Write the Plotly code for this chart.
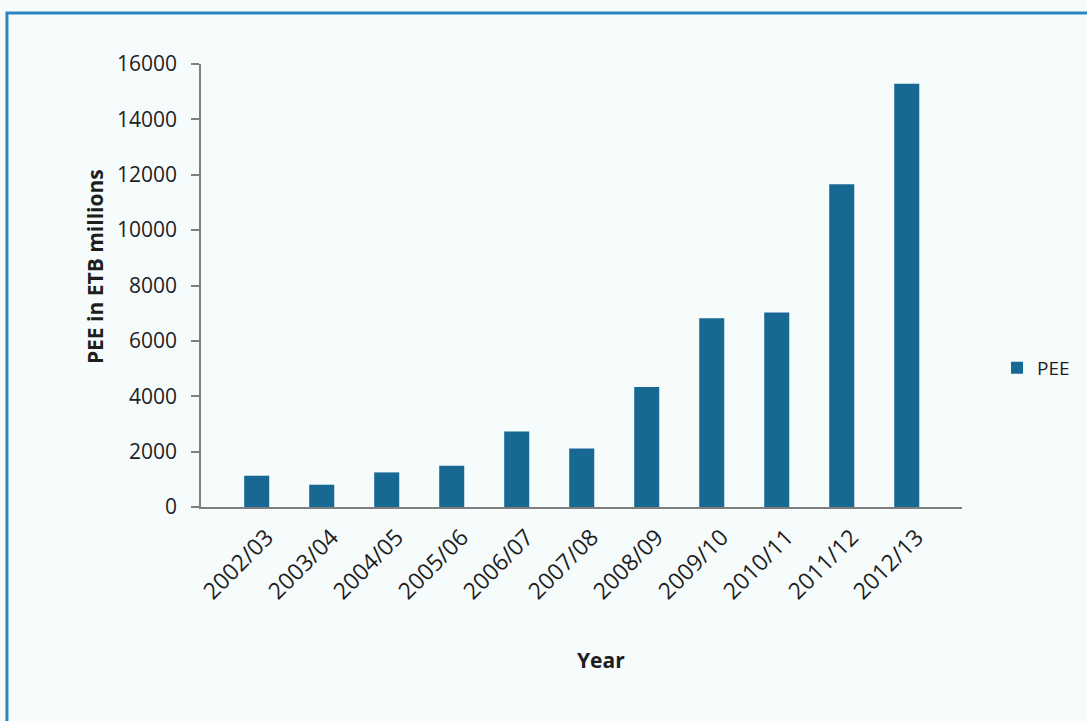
import plotly.graph_objects as go

years = ["2002/03", "2003/04", "2004/05", "2005/06", "2006/07", "2007/08",
         "2008/09", "2009/10", "2010/11", "2011/12", "2012/13"]
pee = [1130, 805, 1250, 1490, 2730, 2115, 4330, 6820, 7025, 11660, 15290]
y_ticks = [0, 2000, 4000, 6000, 8000, 10000, 12000, 14000, 16000]

FONT = "Open Sans"
TEXT = "#1e1e1e"
AXIS = "#7f7f7f"

fig = go.Figure()
fig.add_trace(go.Bar(
    x=list(range(len(years))),
    y=pee,
    name="PEE",
    width=0.385,
    marker=dict(color="#186894", line=dict(width=0)),
))

fig.update_layout(
    width=1087,
    height=721,
    margin=dict(l=201, r=125, t=64, b=214),
    paper_bgcolor="#f6fbfc",
    plot_bgcolor="#f6fbfc",
    font=dict(family=FONT, color=TEXT, size=18),
    showlegend=True,
    legend=dict(
        x=1.046, y=0.314, xanchor="left", yanchor="middle",
        font=dict(family=FONT, size=19, color=TEXT),
        bgcolor="rgba(0,0,0,0)",
        itemwidth=30,
    ),
    xaxis=dict(
        range=[-0.857, 10.85],
        tickmode="array",
        tickvals=list(range(len(years))),
        ticktext=years,
        tickangle=-45,
        ticklabelshift=10,
        ticklabelstandoff=6,
        tickfont=dict(family=FONT, size=23, color=TEXT),
        showline=True, linecolor=AXIS, linewidth=1.5,
        ticks="", showgrid=False, zeroline=False,
    ),
    yaxis=dict(
        range=[0, 16000],
        tickmode="array",
        tickvals=y_ticks,
        ticktext=[str(v) for v in y_ticks],
        tickfont=dict(family=FONT, size=21, color=TEXT),
        ticklabelstandoff=10,
        showline=True, linecolor=AXIS, linewidth=1.5,
        ticks="outside", ticklen=8, tickcolor=AXIS, tickwidth=1.5,
        showgrid=False, zeroline=False,
    ),
    annotations=[
        dict(text="<b>PEE in ETB millions</b>", textangle=-90,
             xref="paper", yref="paper", x=-0.139, y=0.542,
             xanchor="center", yanchor="middle", showarrow=False,
             font=dict(family=FONT, size=21, color=TEXT)),
        dict(text="<b>Year</b>",
             xref="paper", yref="paper", x=0.526, y=-0.345,
             xanchor="center", yanchor="middle", showarrow=False,
             font=dict(family=FONT, size=21, color=TEXT)),
    ],
    shapes=[dict(
        type="rect", xref="paper", yref="paper",
        x0=-0.255, x1=1.17, y0=-0.55, y1=1.115,
        line=dict(color="#2a86c0", width=3),
        fillcolor="rgba(0,0,0,0)", layer="below",
    )],
)

fig.write_html("out.html")
